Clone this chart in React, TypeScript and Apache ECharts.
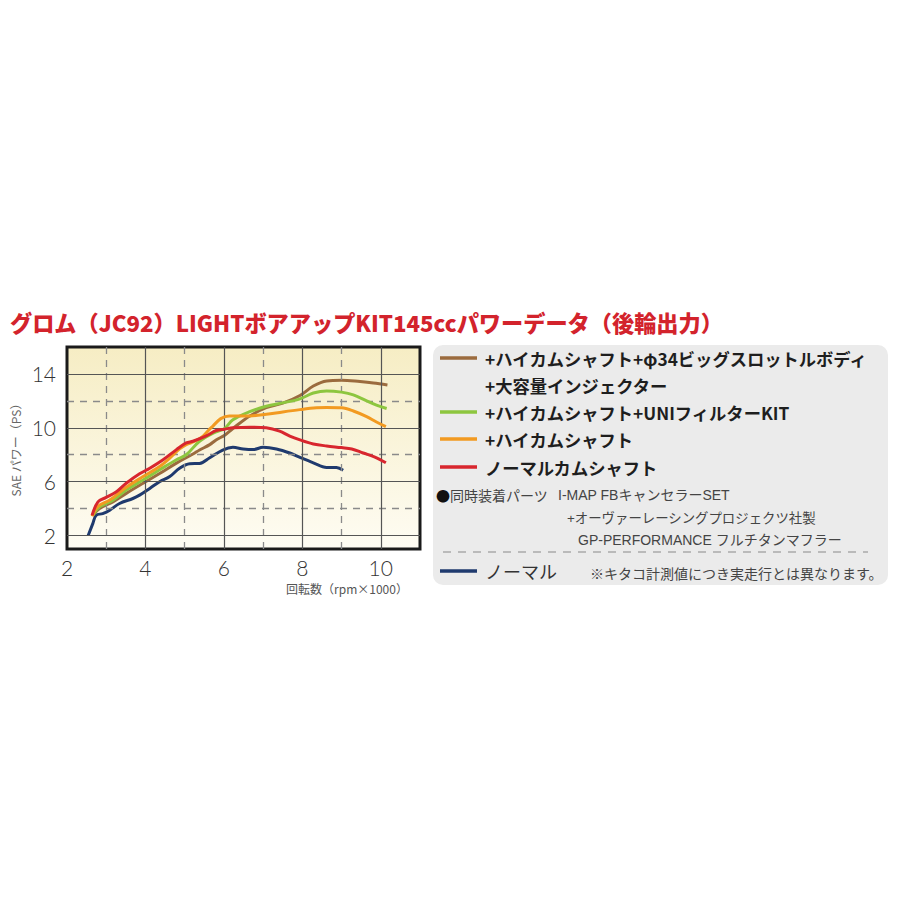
import React, { useEffect, useRef } from "react";
import * as echarts from "echarts";

const titleText = "グロム（JC92）LIGHTボアアップKIT145ccパワーデータ（後輪出力）";
const yAxisName = "SAE パワー（PS）";
const xAxisName = "回転数（rpm×1000）";

const xTickLabels = [2, 4, 6, 8, 10];
const yTickLabels = [2, 6, 10, 14];
const solidX = [4, 6, 8, 10];
const dashedX = [3, 5, 7, 9];
const solidY = [2, 6, 10, 14];
const dashedY = [4, 8, 12];

const nameBigThrottle = "+ハイカムシャフト+φ34ビッグスロットルボディ+大容量インジェクター";
const nameUni = "+ハイカムシャフト+UNIフィルターKIT";
const nameHiCam = "+ハイカムシャフト";
const nameNormalCam = "ノーマルカムシャフト";
const nameNormal = "ノーマル";

const dataBigThrottle = [
  [2.66, 3.5], [2.83, 4.0], [3.17, 4.5], [3.51, 5.13], [3.94, 5.88], [4.36, 6.6],
  [4.79, 7.38], [5.21, 8.05], [5.38, 8.35], [5.64, 8.75], [5.8, 9.1], [6.02, 9.45],
  [6.23, 9.95], [6.66, 10.88], [7.08, 11.5], [7.5, 11.83], [7.94, 12.4], [8.28, 13.1],
  [8.62, 13.48], [9.0, 13.53], [9.47, 13.43], [9.81, 13.33], [10.17, 13.18],
];
const dataUni = [
  [2.66, 3.5], [2.83, 4.13], [3.17, 4.63], [3.51, 5.38], [3.94, 6.13], [4.36, 6.88],
  [4.79, 7.63], [5.04, 8.0], [5.38, 9.0], [5.8, 9.7], [6.02, 9.95], [6.23, 10.6],
  [6.66, 11.2], [7.08, 11.6], [7.5, 11.85], [7.94, 12.15], [8.28, 12.58], [8.62, 12.74],
  [9.0, 12.65], [9.3, 12.45], [9.64, 12.0], [9.89, 11.68], [10.15, 11.43],
];
const dataHiCam = [
  [2.64, 3.43], [2.79, 4.17], [3.09, 4.63], [3.51, 5.58], [3.94, 6.38], [4.36, 7.13],
  [4.62, 7.75], [4.87, 8.43], [5.04, 8.75], [5.26, 9.0], [5.47, 9.38], [5.63, 9.88],
  [5.72, 10.13], [5.92, 10.68], [6.14, 10.88], [6.66, 10.88], [7.08, 11.0], [7.5, 11.18],
  [7.94, 11.35], [8.36, 11.48], [8.62, 11.5], [9.0, 11.48], [9.3, 11.25], [9.64, 10.83],
  [9.89, 10.43], [10.13, 10.08],
];
const dataNormalCam = [
  [2.64, 3.5], [2.79, 4.5], [3.0, 4.83], [3.26, 5.25], [3.51, 5.88], [3.85, 6.58],
  [4.11, 7.0], [4.45, 7.63], [4.79, 8.38], [5.04, 8.88], [5.21, 9.0], [5.55, 9.4],
  [5.8, 9.8], [6.02, 9.9], [6.23, 10.0], [6.66, 10.05], [7.08, 10.0], [7.42, 9.75],
  [7.68, 9.38], [7.94, 9.1], [8.28, 8.8], [8.62, 8.65], [9.0, 8.53], [9.26, 8.43],
  [9.55, 8.13], [9.85, 7.83], [10.13, 7.4],
];
const dataNormal = [
  [2.54, 2.0], [2.66, 2.9], [2.74, 3.5], [2.91, 3.63], [3.09, 3.88], [3.34, 4.38],
  [3.68, 4.75], [3.85, 5.0], [4.11, 5.5], [4.36, 6.0], [4.62, 6.38], [4.87, 7.0],
  [5.13, 7.33], [5.38, 7.35], [5.64, 7.78], [5.97, 8.35], [6.23, 8.55], [6.49, 8.43],
  [6.74, 8.38], [7.0, 8.55], [7.34, 8.43], [7.68, 8.13], [7.94, 7.8], [8.28, 7.4],
  [8.62, 7.06], [8.87, 7.05], [9.04, 6.85],
];

const C_BROWN = "#9b6b3e";
const C_GREEN = "#8dc63f";
const C_ORANGE = "#f29a21";
const C_RED = "#d8262e";
const C_NAVY = "#1f3a6e";

const JP = "'Noto Sans CJK JP', 'Noto Sans', sans-serif";
const JP_LATIN = "'Liberation Sans', 'Noto Sans CJK JP', sans-serif";

export default function App() {
  const ref = useRef<HTMLDivElement>(null);
  useEffect(() => {
    if (!ref.current) return;
    const chart = echarts.init(ref.current, undefined, { renderer: "svg" });

    const curve = (name: string, data: number[][], color: string, z: number) => ({
      type: "line",
      name,
      data,
      smooth: 0.35,
      showSymbol: false,
      symbol: "none",
      z,
      lineStyle: { color, width: 3 },
      itemStyle: { color },
    });

    const gridLineData = [
      ...dashedX.map((v) => ({ xAxis: v, lineStyle: { type: [7, 6], color: "#8a8a8a", width: 1.3 } })),
      ...dashedY.map((v) => ({ yAxis: v, lineStyle: { type: [7, 6], color: "#8a8a8a", width: 1.3 } })),
      ...solidX.map((v) => ({ xAxis: v, lineStyle: { type: "solid", color: "#555", width: 1.2 } })),
      ...solidY.map((v) => ({ yAxis: v, lineStyle: { type: "solid", color: "#555", width: 1.2 } })),
    ];

    const legendRows = [
      { y: 358, color: C_BROWN, lines: ["+ハイカムシャフト+φ34ビッグスロットルボディ", "+大容量インジェクター"] },
      { y: 412, color: C_GREEN, lines: [nameUni] },
      { y: 439, color: C_ORANGE, lines: [nameHiCam] },
      { y: 467, color: C_RED, lines: [nameNormalCam] },
    ];

    const graphics: any[] = [
      {
        type: "rect",
        shape: { x: 433, y: 345, width: 455, height: 240, r: 10 },
        style: { fill: "#ebebeb" },
        z: 0,
      },
    ];
    legendRows.forEach((row) => {
      graphics.push({
        type: "line",
        shape: { x1: 440, y1: row.y, x2: 477, y2: row.y },
        style: { stroke: row.color, lineWidth: 3.5 },
        z: 2,
      });
      row.lines.forEach((t, i) => {
        graphics.push({
          type: "text",
          x: 485,
          y: row.y + i * 27,
          style: {
            text: t,
            fontSize: 17.3,
            fontWeight: "bold",
            fontFamily: JP,
            fill: "#1e1e1e",
            verticalAlign: "middle",
          },
          z: 2,
        });
      });
    });
    const note = (text: string, x: number, y: number, size = 14, fill = "#444", family = JP_LATIN) => ({
      type: "text",
      x,
      y,
      style: { text, fontSize: size, fontFamily: family, fill, verticalAlign: "middle" },
      z: 2,
    });
    graphics.push(note("●", 436, 495, 14, "#111", JP));
    graphics.push(note("同時装着パーツ", 450, 495, 14, "#444", JP));
    graphics.push(note("I-MAP FBキャンセラーSET", 558, 495));
    graphics.push(note("+オーヴァーレーシングプロジェクツ社製", 567, 518, 13.4));
    graphics.push(note("GP-PERFORMANCE フルチタンマフラー", 578, 540));
    graphics.push({
      type: "line",
      shape: { x1: 443, y1: 552, x2: 868, y2: 552 },
      style: { stroke: "#aaa", lineWidth: 1.5, lineDash: [8, 7] },
      z: 2,
    });
    graphics.push({
      type: "line",
      shape: { x1: 440, y1: 571, x2: 477, y2: 571 },
      style: { stroke: C_NAVY, lineWidth: 3.5 },
      z: 2,
    });
    graphics.push(note(nameNormal, 485, 571, 18, "#333", JP));
    graphics.push(note("※キタコ計測値につき実走行とは異なります。", 590, 574, 14, "#444"));
    // title
    graphics.push({
      type: "text",
      x: 10,
      y: 322,
      style: {
        text: titleText,
        fontSize: 22.2,
        fontWeight: 900,
        fontFamily: JP,
        fill: "#d3232c",
        verticalAlign: "middle",
      },
      z: 2,
    });
    // axis names
    graphics.push({
      type: "text",
      x: 15,
      y: 447,
      rotation: Math.PI / 2,
      style: {
        text: yAxisName,
        fontSize: 12,
        fontFamily: JP,
        fill: "#666",
        align: "center",
        verticalAlign: "middle",
      },
      z: 2,
    });
    graphics.push({
      type: "text",
      x: 347,
      y: 588,
      style: {
        text: xAxisName,
        fontSize: 12,
        fontFamily: JP,
        fill: "#555",
        align: "center",
        verticalAlign: "middle",
      },
      z: 2,
    });

    const option: any = {
      animation: false,
      backgroundColor: "#ffffff",
      grid: {
        left: 67,
        top: 347,
        right: 480,
        bottom: 351,
        show: true,
        borderColor: "#1a1a1a",
        borderWidth: 3,
        backgroundColor: {
          type: "linear",
          x: 0,
          y: 0,
          x2: 0,
          y2: 1,
          colorStops: [
            { offset: 0, color: "#f6edc4" },
            { offset: 1, color: "#fefcf3" },
          ],
        },
      },
      xAxis: {
        type: "value",
        min: 2,
        max: 11,
        interval: 1,
        axisLine: { show: false },
        axisTick: { show: false },
        splitLine: { show: false },
        axisLabel: {
          margin: 8,
          fontSize: 21,
          color: "#333",
          fontFamily: "Lato, 'Open Sans', sans-serif",
          fontWeight: 300,
          formatter: (v: number) => (xTickLabels.includes(v) ? String(v) : ""),
        },
      },
      yAxis: {
        type: "value",
        min: 1,
        max: 16,
        interval: 1,
        axisLine: { show: false },
        axisTick: { show: false },
        splitLine: { show: false },
        axisLabel: {
          margin: 11,
          fontSize: 21,
          color: "#333",
          fontFamily: "Lato, 'Open Sans', sans-serif",
          fontWeight: 300,
          formatter: (v: number) => (yTickLabels.includes(v) ? String(v) : ""),
        },
      },
      graphic: { elements: graphics },
      series: [
        {
          type: "line",
          name: "grid",
          data: [[2, 1]],
          showSymbol: false,
          symbol: "none",
          lineStyle: { width: 0, opacity: 0 },
          silent: true,
          z: 1,
          markLine: {
            silent: true,
            symbol: ["none", "none"],
            label: { show: false },
            animation: false,
            data: gridLineData,
          },
        },
        curve(nameNormal, dataNormal, C_NAVY, 3),
        curve(nameBigThrottle, dataBigThrottle, C_BROWN, 4),
        curve(nameUni, dataUni, C_GREEN, 5),
        curve(nameHiCam, dataHiCam, C_ORANGE, 6),
        curve(nameNormalCam, dataNormalCam, C_RED, 7),
      ],
    };
    chart.setOption(option);
    return () => chart.dispose();
  }, []);
  return (
    <div
      ref={ref}
      style={{ position: "absolute", left: 0, top: 0, width: 900, height: 900 }}
    />
  );
}
